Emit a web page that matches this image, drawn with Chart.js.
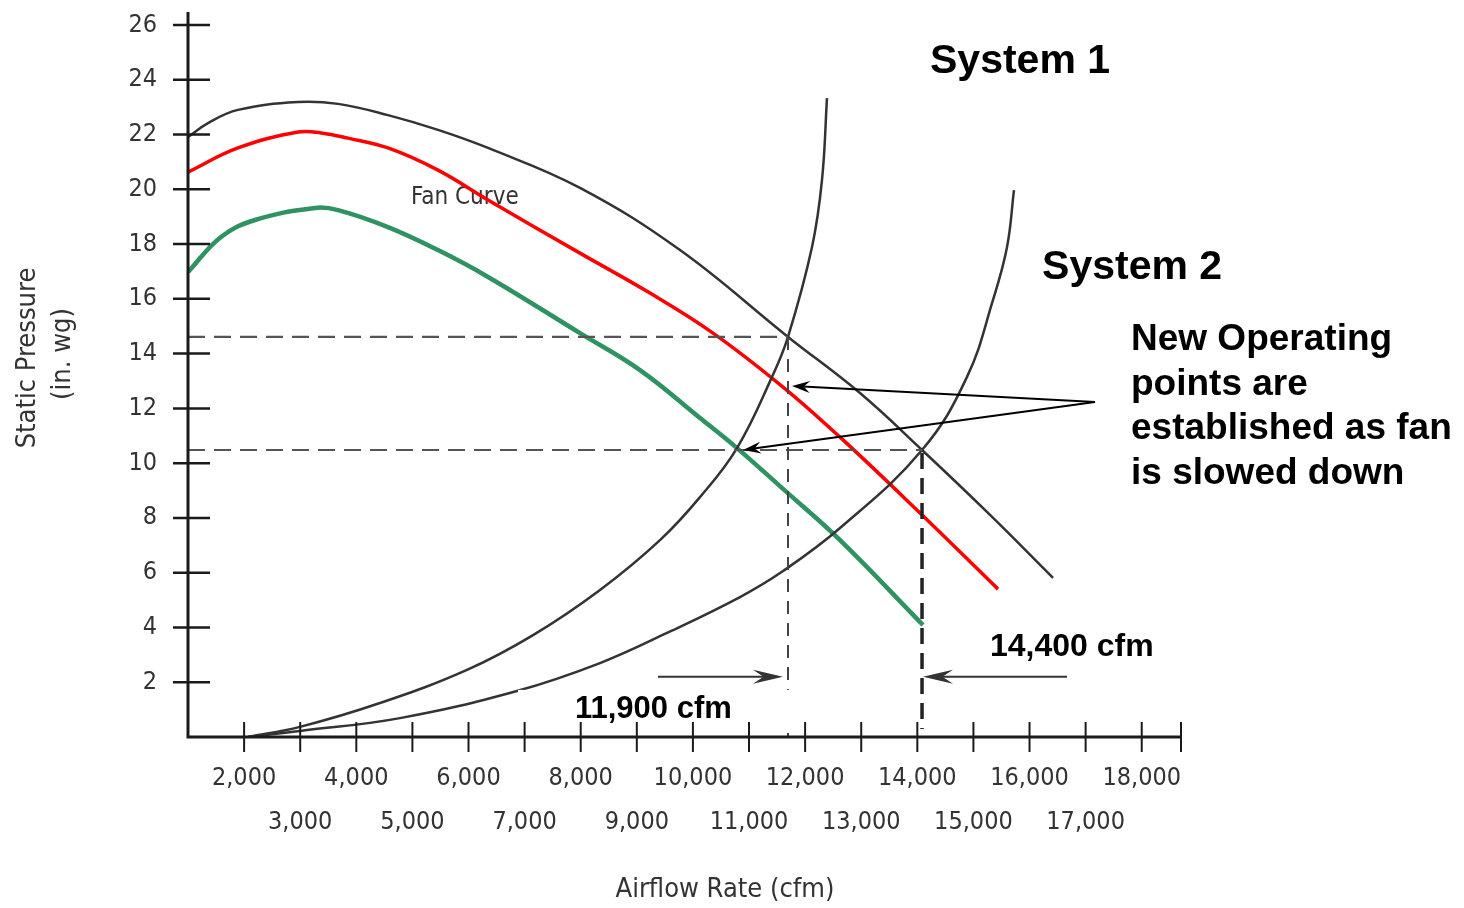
<!DOCTYPE html>
<html>
<head>
<meta charset="utf-8">
<script src="https://cdn.jsdelivr.net/npm/chart.js@4.4.1/dist/chart.umd.min.js"></script>
<style>
  html, body { margin: 0; padding: 0; background: #fff; }
  #wrap { width: 1464px; height: 908px; }
</style>
</head>
<body>
<div id="wrap"><canvas id="fanChart" width="1464" height="908"></canvas></div>
<script>
// -------- Data (airflow in cfm, static pressure in in. wg) --------
const fanCfm      = [1000, 1357, 1891, 2961, 3674, 4565, 5456, 6348, 7987, 9770, 11695, 12978, 14084, 15296, 16419];
const fanPressure = [21.91, 22.42, 22.9, 23.19, 23.12, 22.71, 22.17, 21.51, 20.05, 17.78, 14.61, 12.56, 10.48, 8.11, 5.81];

const redCfm      = [1000, 1891, 2961, 3371, 3852, 4565, 5456, 6348, 7987, 9235, 10358, 11606, 12622, 14048, 15438];
const redPressure = [20.63, 21.51, 22.09, 22.06, 21.87, 21.51, 20.7, 19.61, 17.67, 16.21, 14.75, 12.78, 10.95, 8.18, 5.4];

const greenCfm      = [1000, 1588, 2194, 3264, 3674, 4565, 5456, 6348, 7987, 9057, 10126, 10786, 11606, 12622, 14101];
const greenPressure = [16.98, 18.26, 18.88, 19.32, 19.24, 18.62, 17.78, 16.8, 14.75, 13.4, 11.65, 10.55, 9.06, 7.19, 4.09];

const sys1Cfm      = [2070, 2996, 4422, 5973, 7150, 8344, 9413, 10126, 10786, 11410, 11695, 12123, 12301, 12390];
const sys1Pressure = [0, 0.37, 1.24, 2.45, 3.72, 5.37, 7.19, 8.76, 10.55, 13.15, 14.61, 17.89, 20.34, 23.33];

const sys2Cfm      = [2070, 2996, 4779, 6864, 8344, 9538, 10839, 11606, 12622, 14084, 14886, 15349, 15599, 15723];
const sys2Pressure = [0, 0.22, 0.69, 1.68, 2.7, 3.8, 5.11, 6.06, 7.63, 10.48, 13.15, 15.96, 17.89, 19.97];

// axis ticks
const xTickValues = [2000, 3000, 4000, 5000, 6000, 7000, 8000, 9000, 10000,
                     11000, 12000, 13000, 14000, 15000, 16000, 17000, 18000];
const yTickValues = [2, 4, 6, 8, 10, 12, 14, 16, 18, 20, 22, 24, 26];

// operating points (cfm, pressure)
const opPoint1 = [11695, 14.61];
const opPoint2 = [14084, 10.48];
const newPoints = [[11766, 12.82], [10893, 10.48]];
const calloutFrom = [17168, 12.23];

// axis range
const xMin = 1000, xMax = 18700;
const yMin = 0, yMax = 26;

const thinFont = '"DejaVu Sans Condensed", "Liberation Sans Narrow", sans-serif';
const boldFont = '"Liberation Sans", Arial, Helvetica, sans-serif';


// -------- Helpers --------
function toXY(xs, ys) {
    return xs.map((x, i) => ({ x: x, y: ys[i] }));
}

function fmtCfm(v) {
    return String(v).replace(/\B(?=(\d{3})+(?!\d))/g, ',');
}

function arrowHead(ctx, x1, y1, x2, y2, len, half) {
    const dx = x2 - x1, dy = y2 - y1;
    const d = Math.hypot(dx, dy);
    const ux = dx / d, uy = dy / d;
    const nx = -uy, ny = ux;
    ctx.beginPath();
    ctx.moveTo(x2, y2);
    ctx.lineTo(x2 - len * ux + half * nx, y2 - len * uy + half * ny);
    ctx.lineTo(x2 - len * 0.65 * ux, y2 - len * 0.65 * uy);
    ctx.lineTo(x2 - len * ux - half * nx, y2 - len * uy - half * ny);
    ctx.closePath();
    ctx.fill();
}

function arrow(ctx, x1, y1, x2, y2, len, half, color, lw) {
    const d = Math.hypot(x2 - x1, y2 - y1);
    const ex = x2 - (x2 - x1) / d * len * 0.6;
    const ey = y2 - (y2 - y1) / d * len * 0.6;
    ctx.save();
    ctx.strokeStyle = color;
    ctx.fillStyle = color;
    ctx.lineWidth = lw;
    ctx.beginPath();
    ctx.moveTo(x1, y1);
    ctx.lineTo(ex, ey);
    ctx.stroke();
    arrowHead(ctx, x1, y1, x2, y2, len, half);
    ctx.restore();
}

function dashed(ctx, x1, y1, x2, y2, pattern, color, lw) {
    ctx.save();
    ctx.strokeStyle = color;
    ctx.lineWidth = lw;
    ctx.setLineDash(pattern);
    ctx.beginPath();
    ctx.moveTo(x1, y1);
    ctx.lineTo(x2, y2);
    ctx.stroke();
    ctx.restore();
}

function text(ctx, str, x, y, font, color, align) {
    ctx.save();
    ctx.font = font;
    ctx.fillStyle = color;
    ctx.textAlign = align || 'left';
    ctx.textBaseline = 'middle';
    ctx.fillText(str, x, y);
    ctx.restore();
}


// -------- Annotation plugin --------
const notesPlugin = {
    id: 'notes',

    beforeDatasetsDraw(chart) {
        const ctx = chart.ctx;
        const xs = chart.scales.x, ys = chart.scales.y;
        text(ctx, 'Fan Curve', xs.getPixelForValue(4975), ys.getPixelForValue(19.7), '24px ' + thinFont, '#333');
    },

    afterDatasetsDraw(chart) {
        const ctx = chart.ctx;
        const xs = chart.scales.x, ys = chart.scales.y;
        const px = v => xs.getPixelForValue(v);
        const py = v => ys.getPixelForValue(v);
        const area = chart.chartArea;

        // dashed guides to the operating points
        dashed(ctx, area.left, py(opPoint1[1]), px(opPoint1[0]), py(opPoint1[1]), [17, 9], '#555', 2.2);
        dashed(ctx, area.left, py(opPoint2[1]), px(opPoint2[0]), py(opPoint2[1]), [17, 9], '#555', 2.2);
        dashed(ctx, px(opPoint1[0]), py(opPoint1[1]), px(opPoint1[0]), area.bottom, [13, 9], '#444', 2);
        dashed(ctx, px(opPoint2[0]), py(opPoint2[1]) + 3, px(opPoint2[0]), area.bottom - 8, [16, 9], '#222', 3.5);

        // white patch behind the 11,900 label
        ctx.save();
        ctx.fillStyle = '#fff';
        ctx.fillRect(px(6882), py(1.72), px(11731) - px(6882), py(0.15) - py(1.72));
        ctx.restore();

        // axis lines
        ctx.save();
        ctx.strokeStyle = '#1a1a1a';
        ctx.lineWidth = 3;
        ctx.beginPath();
        ctx.moveTo(area.left, area.top - 13);
        ctx.lineTo(area.left, area.bottom);
        ctx.lineTo(area.right, area.bottom);
        ctx.stroke();

        // tick marks crossing the axes
        ctx.lineWidth = 2.5;
        ys.ticks.forEach(t => {
            if (t.value === yMin) return;
            const y = py(t.value);
            ctx.beginPath();
            ctx.moveTo(area.left - 15, y);
            ctx.lineTo(area.left + 22, y);
            ctx.stroke();
        });
        ctx.lineWidth = 2;
        xs.ticks.forEach(t => {
            if (t.value === xMin) return;
            const x = px(t.value);
            ctx.beginPath();
            ctx.moveTo(x, area.bottom - 15);
            ctx.lineTo(x, area.bottom + 15);
            ctx.stroke();
        });
        ctx.restore();

        // x tick labels in two staggered rows
        xTickValues.forEach(v => {
            const row = (v / 1000) % 2 === 0 ? 0 : 1;
            text(ctx, fmtCfm(v), px(v), area.bottom + 41 + row * 44, '25px ' + thinFont, '#333', 'center');
        });

        // flow arrows at the bottom
        arrow(ctx, px(9378), py(2.2), px(11606), py(2.2), 30, 7, '#333', 2);
        arrow(ctx, px(16668), py(2.2), px(14101), py(2.2), 30, 7, '#333', 2);

        // callout arrows to the new operating points
        newPoints.forEach(p => {
            arrow(ctx, px(calloutFrom[0]), py(calloutFrom[1]), px(p[0]), py(p[1]), 18, 6, '#000', 2);
        });

        // bold notes
        text(ctx, 'System 1', px(14226), py(24.65), 'bold 41px ' + boldFont, '#000');
        text(ctx, 'System 2', px(16223), py(17.13), 'bold 41px ' + boldFont, '#000');
        const noteLines = ['New Operating', 'points are', 'established as fan', 'is slowed down'];
        noteLines.forEach((s, i) => {
            text(ctx, s, px(17809), py(14.5) + i * 44.5, 'bold 37px ' + boldFont, '#000');
        });
        text(ctx, '14,400 cfm', px(15296), py(3.29), 'bold 32px ' + boldFont, '#000');
        text(ctx, '11,900 cfm', px(7898), py(0.99), 'bold 31px ' + boldFont, '#000');

        // axis titles
        text(ctx, 'Airflow Rate (cfm)', 725, 890, '27px ' + thinFont, '#333', 'center');
        ctx.save();
        ctx.translate(28, 358);
        ctx.rotate(-Math.PI / 2);
        text(ctx, 'Static Pressure', 0, 0, '27px ' + thinFont, '#333', 'center');
        ctx.restore();
        ctx.save();
        ctx.translate(63, 354);
        ctx.rotate(-Math.PI / 2);
        text(ctx, '(in. wg)', 0, 0, '27px ' + thinFont, '#333', 'center');
        ctx.restore();
    }
};


// -------- Chart --------
function curve(label, xs, ys, color, width) {
    return {
        label: label,
        data: toXY(xs, ys),
        borderColor: color,
        backgroundColor: color,
        borderWidth: width,
        pointRadius: 0,
        showLine: true,
        fill: false,
        tension: 0.4
    };
}

const ctx = document.getElementById('fanChart').getContext('2d');

new Chart(ctx, {
    type: 'scatter',
    data: {
        datasets: [
            curve('System 1', sys1Cfm, sys1Pressure, '#333', 2.5),
            curve('System 2', sys2Cfm, sys2Pressure, '#333', 2.5),
            curve('Fan Curve', fanCfm, fanPressure, '#333', 2.5),
            curve('Reduced speed 1', redCfm, redPressure, '#ff0000', 3.5),
            curve('Reduced speed 2', greenCfm, greenPressure, '#2e9262', 4.5)
        ]
    },
    options: {
        responsive: false,
        animation: false,
        devicePixelRatio: 1,
        layout: { padding: { left: 0, top: 25, right: 283, bottom: 0 } },
        plugins: {
            legend: { display: false },
            tooltip: { enabled: false }
        },
        scales: {
            x: {
                type: 'linear',
                min: xMin,
                max: xMax,
                grid: { display: false },
                border: { display: false },
                afterBuildTicks: s => {
                    s.ticks = [xMin].concat(xTickValues, [xMax]).map(v => ({ value: v }));
                },
                afterFit: s => {
                    s.height = 171;
                    s.paddingLeft = 0;
                    s.paddingRight = 0;
                },
                ticks: { display: false }
            },
            y: {
                min: yMin,
                max: yMax,
                grid: { display: false, drawTicks: false },
                border: { display: false },
                afterBuildTicks: s => {
                    s.ticks = [yMin].concat(yTickValues).map(v => ({ value: v }));
                },
                afterFit: s => {
                    s.width = 188;
                    s.paddingTop = 0;
                    s.paddingBottom = 0;
                },
                ticks: {
                    padding: 31,
                    color: '#333',
                    font: { family: thinFont, size: 25 },
                    callback: v => v === yMin ? '' : v
                }
            }
        }
    },
    plugins: [notesPlugin]
});
</script>
</body>
</html>
